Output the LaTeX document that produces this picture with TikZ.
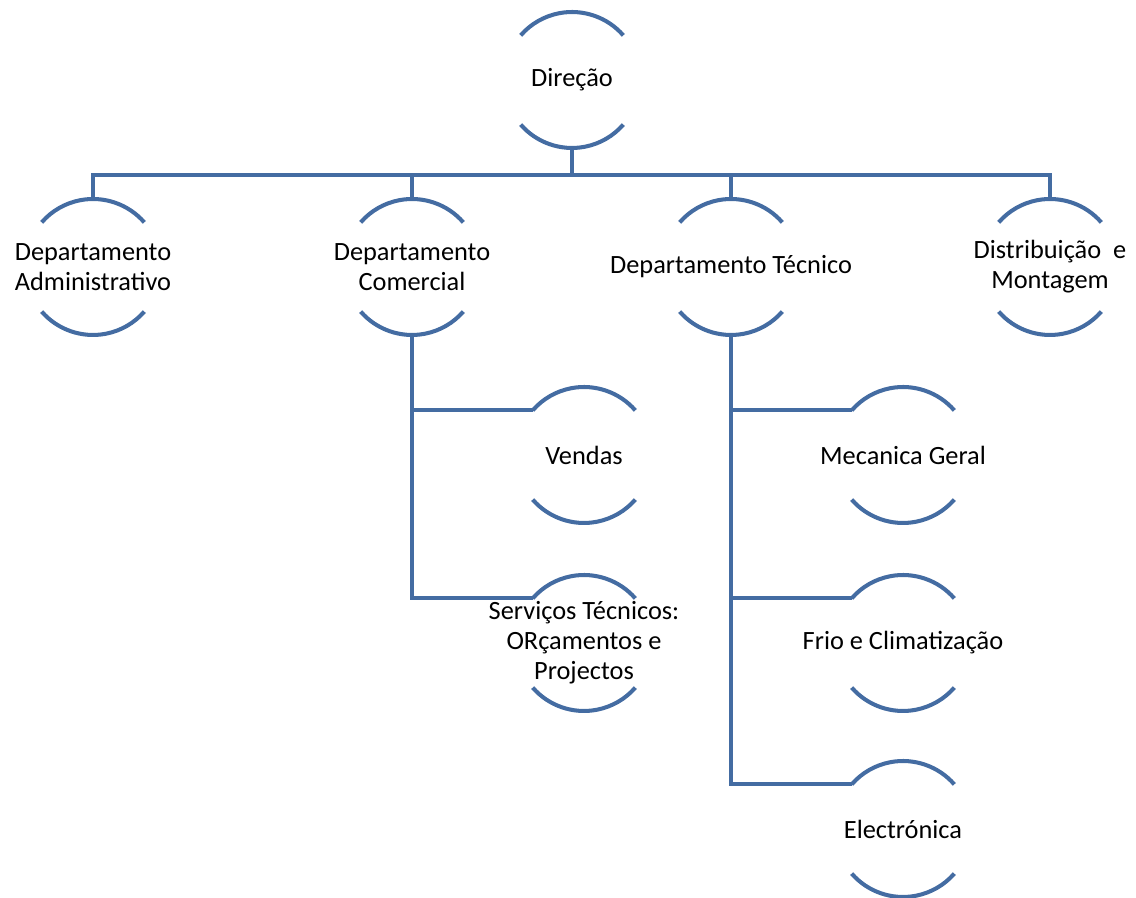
\documentclass[tikz,border=0pt]{standalone}
\usepackage{fontspec}
\setmainfont{Carlito}
\usepackage{xcolor}
\definecolor{orgblue}{RGB}{68,108,162}
\tikzset{
	unit/.style={circle, minimum size=2.72cm, inner sep=0pt, outer sep=0pt},
	txt/.style={font=\fontsize{15}{17}\selectfont, align=center, inner sep=0pt},
	link/.style={draw=orgblue, line width=2.3pt},
}

\begin{document}
\begin{tikzpicture}[x=0.02cm, y=0.02cm]
			\useasboundingbox (0,0) rectangle (1136,898);
			% draw units
			\node[unit, label={[txt]center:Direção}] (dir) at (572,818) {};
			\node[unit, label={[txt]center:Departamento\\Administrativo}] (adm) at (93,631) {};
			\node[unit, label={[txt]center:Departamento\\Comercial}] (com) at (412,631) {};
			\node[unit, label={[txt]center:Departamento Técnico}] (tec) at (731,631) {};
			\node[unit, label={[txt]center:Distribuição\ \ e\\Montagem}] (dis) at (1050,631) {};
			\node[unit, label={[txt]center:Vendas}] (ven) at (584,443) {};
			\node[unit, label={[txt]center:Serviços Técnicos:\\ORçamentos e\\Projectos}] (ser) at (584,255) {};
			\node[unit, label={[txt]center:Mecanica Geral}] (mec) at (903,443) {};
			\node[unit, label={[txt]center:Frio e Climatização}] (fri) at (903,255) {};
			\node[unit, label={[txt]center:Electrónica}] (ele) at (903,69) {};
			
			% draw arcs
			\foreach \n in {dir,adm,com,tec,dis,ven,ser,mec,fri,ele}{
				\draw[link] (\n.41) arc (41:139:1.36cm);
				\draw[link] (\n.221) arc (221:319:1.36cm);
			}
			
			% draw lines
			\coordinate (bus) at (572,723);
			\draw[link] (dir.south) -- (bus);
			\draw[link] (adm.north) |- (bus) -| (dis.north);
			\draw[link] (com.north) -- (com.north |- bus);
			\draw[link] (tec.north) -- (tec.north |- bus);
			\draw[link] (com.south) |- (ser.139);
			\draw[link] (com.south |- ven.139) -- (ven.139);
			\draw[link] (tec.south) |- (ele.139);
			\draw[link] (tec.south |- mec.139) -- (mec.139);
			\draw[link] (tec.south |- fri.139) -- (fri.139);
		\end{tikzpicture}
\end{document}
